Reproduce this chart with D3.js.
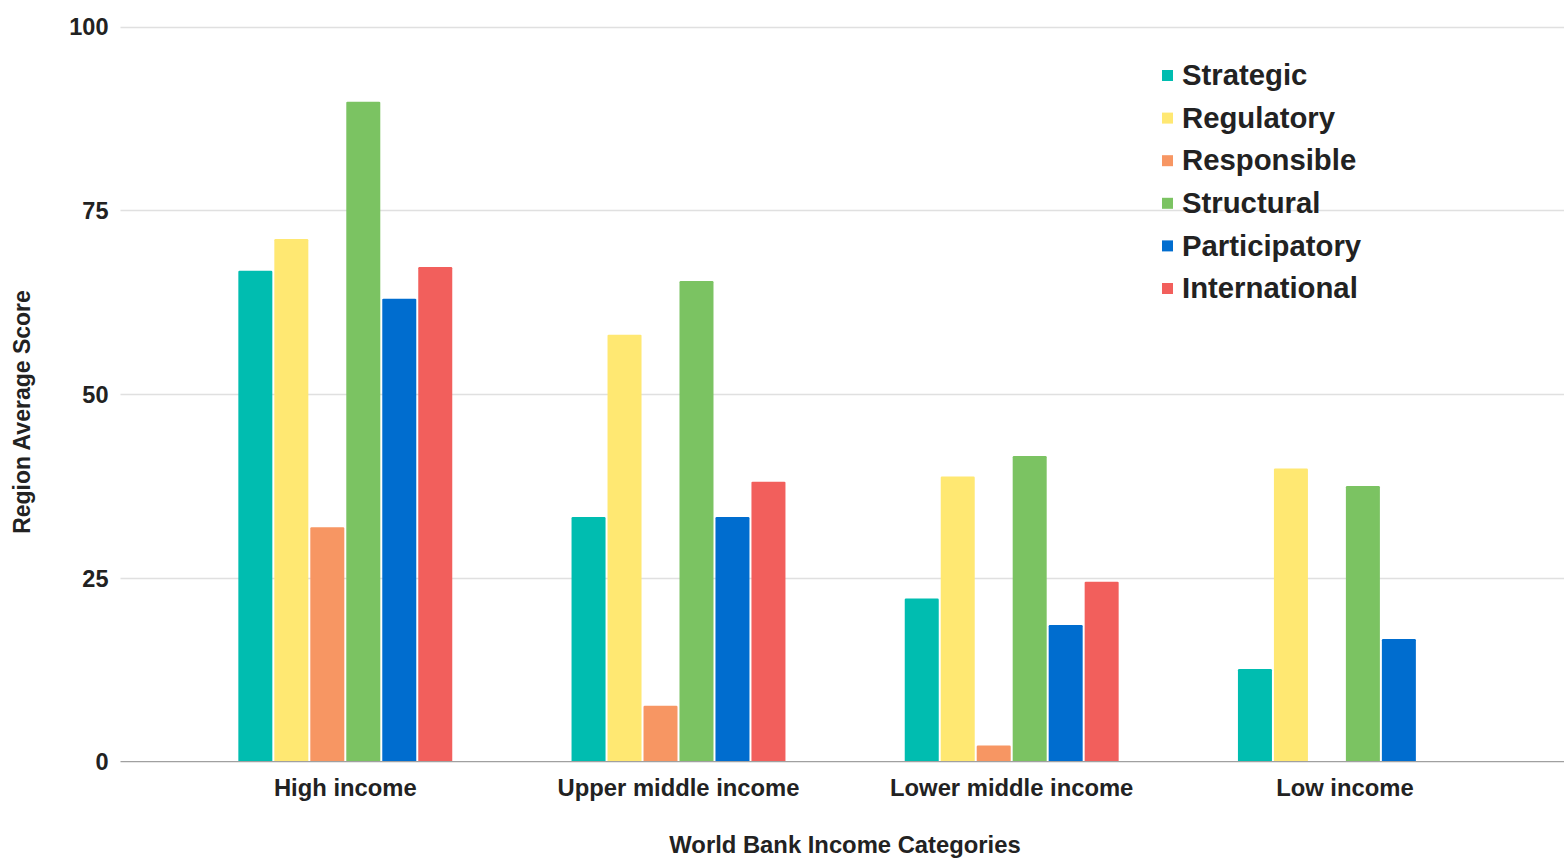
<!DOCTYPE html>
<html>
<head>
<meta charset="utf-8">
<script src="https://cdn.jsdelivr.net/npm/d3@7"></script>
<style>
  html, body { margin: 0; padding: 0; background: #ffffff; }
  svg { display: block; }
  text { font-family: "Liberation Sans", Arial, Helvetica, sans-serif; font-weight: bold; fill: #222222; }
</style>
</head>
<body>
<svg id="chart" width="1564" height="859"></svg>
<script>
const categories = ["High income", "Upper middle income", "Lower middle income", "Low income"];
const seriesNames = ["Strategic", "Regulatory", "Responsible", "Structural", "Participatory", "International"];
const seriesColors = ["#00bdb0", "#ffe872", "#f79663", "#7bc362", "#006dcf", "#f25f5c"];
const strategic     = [66.8, 33.3, 22.2, 12.6];
const regulatory    = [71.1, 58.1, 38.8, 39.9];
const responsible   = [31.9, 7.6, 2.2, 0];
const structural    = [89.8, 65.4, 41.6, 37.5];
const participatory = [63.0, 33.3, 18.6, 16.7];
const international = [67.3, 38.1, 24.5, 0];
const yTicks = [0, 25, 50, 75, 100];
const xTitle = "World Bank Income Categories";
const yTitle = "Region Average Score";

const seriesValues = [strategic, regulatory, responsible, structural, participatory, international];

const svg = d3.select("#chart");
const plotLeft = 120.5, plotRight = 1564;
const y = d3.scaleLinear().domain([0, 100]).range([761.7, 26.7]);
const x0 = d3.scaleBand().domain(categories).range([178.7, 1511.5]).paddingInner(0.358).paddingOuter(0.179);
const x1 = d3.scaleBand().domain(seriesNames).range([0, x0.bandwidth()]).paddingInner(0.055);

// gridlines
svg.append("g").selectAll("line").data(yTicks.filter(t => t !== 0)).join("line")
  .attr("x1", plotLeft).attr("x2", plotRight)
  .attr("y1", d => Math.round(y(d)) + 0.5).attr("y2", d => Math.round(y(d)) + 0.5)
  .attr("stroke", "#e0e0e0").attr("stroke-width", 1.5);

// y axis labels
const yAxis = d3.axisLeft(y).tickValues(yTicks).tickSize(0).tickPadding(12);
const gy = svg.append("g").attr("transform", `translate(${plotLeft},0)`).call(yAxis);
gy.select(".domain").remove();
gy.selectAll("text").style("font-size", "23.5px").attr("fill", "#222").attr("dy", "0.35em")
  .style("font-family", '"Liberation Sans", Arial, sans-serif').style("font-weight", "bold");

// bars
const groups = svg.append("g").selectAll("g").data(categories).join("g")
  .attr("transform", d => `translate(${x0(d)},0)`);
groups.selectAll("rect")
  .data((c, ci) => seriesNames.map((s, si) => ({ s, si, v: seriesValues[si][ci] })).filter(d => d.v > 0))
  .join("rect")
  .attr("x", d => x1(d.s))
  .attr("width", x1.bandwidth())
  .attr("y", d => y(d.v))
  .attr("height", d => y(0) - y(d.v))
  .attr("rx", 1.2)
  .attr("fill", d => seriesColors[d.si]);

// baseline
svg.append("line").attr("x1", plotLeft).attr("x2", plotRight)
  .attr("y1", y(0)).attr("y2", y(0))
  .attr("stroke", "#a0a0a0").attr("stroke-width", 1.3);

// x axis labels
const xAxis = d3.axisBottom(x0).tickSize(0).tickPadding(0);
const gx = svg.append("g").attr("transform", `translate(0,${y(0)})`).call(xAxis);
gx.select(".domain").remove();
gx.selectAll("text").attr("y", 0).attr("dy", 0).attr("transform", "translate(0,34)")
  .style("font-size", "23.8px").attr("fill", "#222")
  .style("font-family", '"Liberation Sans", Arial, sans-serif').style("font-weight", "bold");

// axis titles
svg.append("text").attr("x", 845).attr("y", 853).attr("text-anchor", "middle")
  .style("font-size", "23.8px").text(xTitle);
svg.append("text").attr("transform", "translate(30,412) rotate(-90)").attr("text-anchor", "middle")
  .style("font-size", "23px").text(yTitle);

// legend
const legend = svg.append("g").attr("transform", "translate(1162,75)");
const li = legend.selectAll("g").data(seriesNames).join("g")
  .attr("transform", (d, i) => `translate(0,${i * 42.6})`);
li.append("rect").attr("x", 0).attr("y", -5).attr("width", 11).attr("height", 11)
  .attr("fill", (d, i) => seriesColors[i]);
li.append("text").attr("x", 20).attr("y", 0).attr("dy", "0.35em")
  .style("font-size", "29.3px").text(d => d);
</script>
</body>
</html>
